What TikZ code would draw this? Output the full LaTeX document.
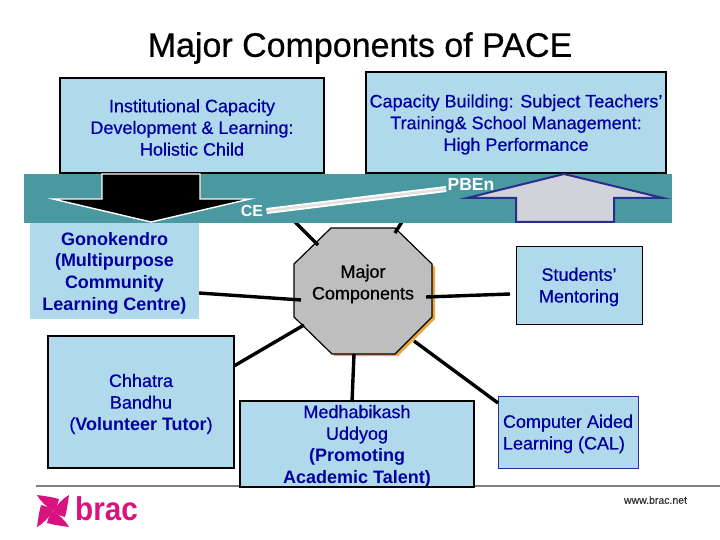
\documentclass[tikz,border=0pt]{standalone}
\usepackage{fontspec}
\setmainfont{Liberation Sans}[FakeBold=0.5, BoldFeatures={FakeBold=0}]
\usetikzlibrary{arrows.meta, positioning, calc}
\definecolor{boxblue}{HTML}{B0D9EB}
\definecolor{bandteal}{HTML}{4A98A0}
\definecolor{labelblue}{HTML}{0000A0}
\definecolor{hubgrey}{HTML}{BEBEBE}
\definecolor{hubshade}{HTML}{E8A840}
\definecolor{arrowgrey}{HTML}{D2D2DA}
\definecolor{arrownavy}{HTML}{2A2F8C}
\definecolor{bracpink}{HTML}{D8127E}
\definecolor{rulegrey}{HTML}{808080}
\newcommand{\padtop}{\rule{0pt}{17pt}}
\tikzset{
    compbox/.style={draw=black, line width=1.4pt, fill=boxblue, align=center, text=labelblue, inner sep=0pt, font=\fontsize{18}{21.7}\selectfont},
    link/.style={draw=black, line width=3.4pt},
}
\begin{document}
\begin{tikzpicture}[x=1pt, y=-1pt]
    \useasboundingbox (0,0) rectangle (720,540);
    \node[font=\fontsize{34}{40}\selectfont] (title) at (360,48) {Major Components of PACE};
    \coordinate (rulea) at (36,486);
    \coordinate (ruleb) at (720,486);
    \draw[rulegrey, line width=2.8pt] (rulea) -- (ruleb);

    \node[compbox, minimum width=264, minimum height=95] (inst) at (192,125.5) {\padtop Institutional Capacity\\Development \& Learning:\\Holistic Child};
    \node[compbox, minimum width=300, minimum height=101] (cap) at (516,122.5) {\padtop Capacity Building: Subject Teachers’\\Training\& School Management:\\High Performance};
    \node[compbox, draw=none, font=\fontsize{18}{21.7}\selectfont\bfseries, minimum width=169, minimum height=96] (gono) at (114.5,271) {\padtop Gonokendro\\(Multipurpose\\Community\\Learning Centre)};
    \node[compbox, minimum width=186, minimum height=132] (chhatra) at (141,402) {\padtop Chhatra\\Bandhu\\(\textbf{Volunteer Tutor})};
    \node[compbox, minimum width=234, minimum height=84] (medha) at (357,444) {\padtop Medhabikash\\Uddyog\\\textbf{(Promoting}\\\textbf{Academic Talent)}};
    \node[compbox, line width=1pt, minimum width=126, minimum height=78] (mentor) at (579,285) {\padtop Students’\\Mentoring};
    \node[compbox, line width=0.8pt, draw=arrownavy, align=left, minimum width=140, minimum height=72] (cal) at (568,432) {\padtop Computer Aided\\Learning (CAL)};

    \fill[hubshade] (334,230) -- (397,230) -- (435,267) -- (435,319) -- (398,356) -- (334,356) -- cycle;
    \draw[fill=hubgrey, line width=1.2pt] (331,228) -- (395,228) -- (432,264) -- (432,317) -- (395,354) -- (332,354) -- (294,317) -- (294,264) -- cycle;
    \node[font=\fontsize{18}{21.7}\selectfont, align=center] (hub) at (363,282) {\padtop Major\\Components};

    \foreach \n/\p in {gonoend/{199,293}, hubw/{301,300}, mentorend/{510,294}, hube/{426,297}, chhatraend/{234,366}, hubsw/{304,325}, medhaend/{352,402}, hubs/{354,354}, calend/{498,403}, hubse/{414,341}, instend/{247,174}, hubnw/{318,245}, capend/{432,174}, hubne/{395,233}} {
        \coordinate (\n) at (\p);
    }
    \draw[link] (gonoend) -- (hubw);
    \draw[link] (mentorend) -- (hube);
    \draw[link] (chhatraend) -- (hubsw);
    \draw[link] (medhaend) -- (hubs);
    \draw[link] (calend) -- (hubse);
    \draw[link] (instend) -- (hubnw);
    \draw[link] (capend) -- (hubne);

    \fill[bandteal] (24,174) rectangle (672,223);
    \draw[fill=black, draw=white, line width=1.4pt] (102,174) -- (200,174) -- (200,199) -- (250,199) -- (151,222) -- (53,199) -- (102,199) -- cycle;
    \draw[fill=arrowgrey, draw=arrownavy, line width=2pt] (564,174) -- (663,198) -- (614,198) -- (614,222) -- (516,222) -- (516,198) -- (467,198) -- cycle;

    \node[text=white, font=\fontsize{16}{18}\selectfont\bfseries] (ce) at (252,211) {CE};
    \node[text=white, font=\fontsize{17.5}{18}\selectfont\bfseries] (pben) at (471,184) {PBEn};
    \draw[white, line width=6pt] (ce.east) -- ($(pben.west)+(2,5)$);
    \draw[white!88!black, line width=2.4pt] (ce.east) -- ($(pben.west)+(2,5)$);

    \node[text=bracpink, font=\fontsize{33}{36}\selectfont\bfseries, anchor=base west, inner sep=0pt, xscale=0.9] (brac) at (75,520) {brac};
    \foreach \a in {0,90,180,270} {
        \fill[bracpink, rotate around={\a:(53,511)}] (53,511) .. controls (47,507) and (41,502) .. (37,495) .. controls (44,496) and (52,497) .. (59,499) .. controls (58,504) and (56,508) .. (53,511);
    }
    \node[font=\fontsize{10.5}{12}\selectfont, text=black!80] (web) at (655.5,500) {www.brac.net};
\end{tikzpicture}
\end{document}
